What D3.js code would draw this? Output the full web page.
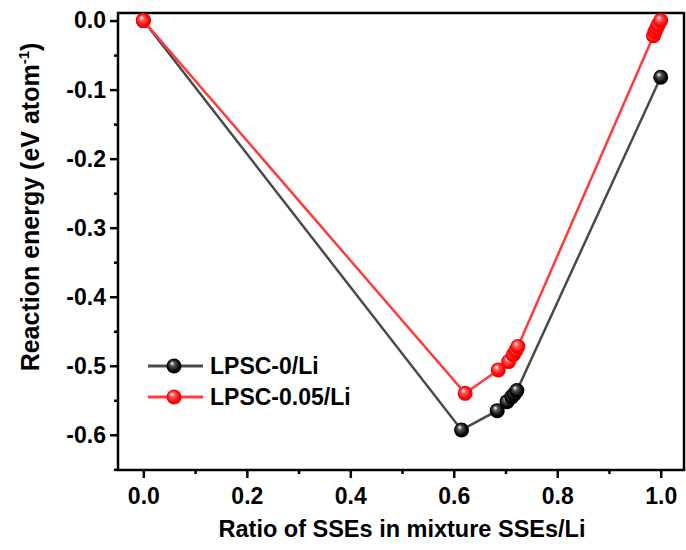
<!DOCTYPE html>
<html>
<head>
<meta charset="utf-8">
<script src="https://cdn.jsdelivr.net/npm/d3@7"></script>
<style>
  body { margin: 0; background: #fff; }
  svg text { font-family: "Liberation Sans", Arial, sans-serif; font-weight: bold; fill: #000; }
</style>
</head>
<body>
<div id="chart"></div>
<script>
// series
const xBlack = [0, 0.615, 0.684, 0.703, 0.712, 0.717, 0.722, 1.0];
const yBlack = [0, -0.593, -0.565, -0.552, -0.545, -0.541, -0.536, -0.082];
const xRed = [0, 0.622, 0.686, 0.706, 0.715, 0.720, 0.724, 0.986, 0.989, 0.992, 0.995, 1.0];
const yRed = [0, -0.540, -0.506, -0.494, -0.484, -0.478, -0.472, -0.022, -0.016, -0.011, -0.006, 0];
const seriesNames = ["LPSC-0/Li", "LPSC-0.05/Li"];
const xTicks = [0, 0.2, 0.4, 0.6, 0.8, 1.0];
const xMinor = [0.1, 0.3, 0.5, 0.7, 0.9];
const yTicks = [0, -0.1, -0.2, -0.3, -0.4, -0.5, -0.6];
const yMinor = [-0.05, -0.15, -0.25, -0.35, -0.45, -0.55, -0.65];

const width = 686, height = 550;
const plotL = 118, plotR = 684, plotT = 13, plotB = 470;

let svg = d3.select("#chart").append("svg")
    .attr("width", width)
    .attr("height", height);

let x = d3.scaleLinear().domain([-0.049, 1.045]).range([plotL, plotR]);
let y = d3.scaleLinear().domain([-0.651, 0.011]).range([plotB, plotT]);

// plain hyphen for negatives, like the original
let fmt = (d) => d3.format(".1f")(d).replace("\u2212", "-");

// gradients for the glossy ball markers
let defs = svg.append("defs");
let makeGrad = (id, base, mid) => {
    let g = defs.append("radialGradient")
        .attr("id", id)
        .attr("cx", "50%").attr("cy", "50%").attr("r", "55%")
        .attr("fx", "35%").attr("fy", "30%");
    g.append("stop").attr("offset", "0%").attr("stop-color", "#ffffff");
    g.append("stop").attr("offset", "30%").attr("stop-color", mid);
    g.append("stop").attr("offset", "75%").attr("stop-color", base);
    g.append("stop").attr("offset", "100%").attr("stop-color", base);
};
makeGrad("ballBlack", "#000000", "#555555");
makeGrad("ballRed", "#ff0000", "#ff5a5a");

// axes
let xAxis = svg.append("g")
    .attr("transform", `translate(0,${plotB})`)
    .call(d3.axisBottom(x).tickValues(xTicks).tickSize(8).tickSizeOuter(0).tickPadding(10)
        .tickFormat(fmt));
xAxis.select(".domain").remove();
xAxis.selectAll("line").attr("stroke-width", 2.5);
xAxis.selectAll("text").style("font-size", "23px");

let xAxisMinor = svg.append("g")
    .attr("transform", `translate(0,${plotB})`)
    .call(d3.axisBottom(x).tickValues(xMinor).tickSize(4).tickFormat(""));
xAxisMinor.select(".domain").remove();
xAxisMinor.selectAll("line").attr("stroke-width", 2.5);

let yAxis = svg.append("g")
    .attr("transform", `translate(${plotL},0)`)
    .call(d3.axisLeft(y).tickValues(yTicks).tickSize(8).tickSizeOuter(0).tickPadding(4)
        .tickFormat(fmt));
yAxis.select(".domain").remove();
yAxis.selectAll("line").attr("stroke-width", 2.5);
yAxis.selectAll("text").style("font-size", "23px");

let yAxisMinor = svg.append("g")
    .attr("transform", `translate(${plotL},0)`)
    .call(d3.axisLeft(y).tickValues(yMinor).tickSize(4).tickFormat(""));
yAxisMinor.select(".domain").remove();
yAxisMinor.selectAll("line").attr("stroke-width", 2.5);

// frame
svg.append("rect")
    .attr("x", plotL).attr("y", plotT)
    .attr("width", plotR - plotL).attr("height", plotB - plotT)
    .style("fill", "none")
    .style("stroke", "#000")
    .style("stroke-width", 2.5);

// axis titles
svg.append("text")
    .attr("x", 402).attr("y", 537)
    .attr("text-anchor", "middle")
    .style("font-size", "23.5px")
    .text("Ratio of SSEs in mixture SSEs/Li");

let yt = svg.append("text")
    .attr("transform", "translate(39,207) rotate(-90)")
    .attr("text-anchor", "middle")
    .style("font-size", "25px");
yt.append("tspan").text("Reaction energy (eV atom");
yt.append("tspan").attr("dy", -10).style("font-size", "15px").text("-1");
yt.append("tspan").attr("dy", 10).text(")");

// series
let line = d3.line().x(d => x(d[0])).y(d => y(d[1]));
let series = [
    { pts: xBlack.map((v, i) => [v, yBlack[i]]), stroke: "#4a4a4a", sw: 2.5, fill: "url(#ballBlack)" },
    { pts: xRed.map((v, i) => [v, yRed[i]]), stroke: "#ff3b3b", sw: 2.5, fill: "url(#ballRed)" }
];

for(let i = 0; i < series.length; i++) {
    let s = series[i];
    svg.append("path")
        .datum(s.pts)
        .attr("d", line)
        .style("fill", "none")
        .style("stroke", s.stroke)
        .style("stroke-width", s.sw);
    svg.selectAll(null)
        .data(s.pts)
        .enter()
        .append("circle")
        .attr("cx", d => x(d[0]))
        .attr("cy", d => y(d[1]))
        .attr("r", 7.5)
        .style("fill", s.fill);
}

// legend
let legendY = [366, 397];
for(let i = 0; i < series.length; i++) {
    let s = series[i];
    svg.append("line")
        .attr("x1", 148).attr("x2", 203)
        .attr("y1", legendY[i]).attr("y2", legendY[i])
        .style("stroke", s.stroke)
        .style("stroke-width", 3);
    svg.append("circle")
        .attr("cx", 174).attr("cy", legendY[i])
        .attr("r", 7.5)
        .style("fill", s.fill);
    svg.append("text")
        .attr("x", 210).attr("y", legendY[i])
        .attr("dy", "0.36em")
        .style("font-size", "23px")
        .text(seriesNames[i]);
}
</script>
</body>
</html>
